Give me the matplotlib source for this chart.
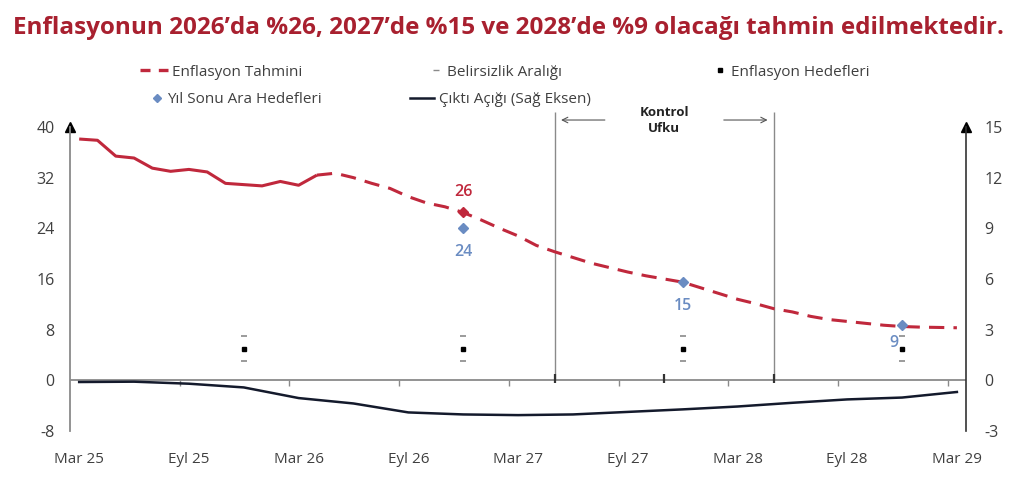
import numpy as np
import matplotlib
matplotlib.use('Agg')
from matplotlib import pyplot as plt
from matplotlib.lines import Line2D

plt.rcParams['font.family'] = ['Open Sans', 'DejaVu Sans']
plt.rcParams['axes.unicode_minus'] = False

# aylar: 0 = Mar 25 ... 48 = Mar 29
ay_sayisi = 49
x_etiketleri = ['Mar 25', 'Eyl 25', 'Mar 26', 'Eyl 26', 'Mar 27', 'Eyl 27', 'Mar 28', 'Eyl 28', 'Mar 29']
x_etiket_yeri = [0, 6, 12, 18, 24, 30, 36, 42, 48]

gercek_ay = list(range(0, 14))
gercek = [38.1, 37.9, 35.4, 35.1, 33.5, 33.0, 33.3, 32.9, 31.1, 30.9, 30.7, 31.4, 30.8, 32.4]

tahmin_ay = list(range(13, 49))
tahmin = [32.4, 32.7, 32.0, 31.1, 30.3, 29.0, 28.0, 27.4, 26.5, 25.3, 24.0, 22.8,
          21.3, 20.3, 19.4, 18.5, 17.8, 17.1, 16.5, 16.0, 15.5, 14.6, 13.7, 12.8,
          12.1, 11.3, 10.8, 10.1, 9.6, 9.3, 9.0, 8.7, 8.5, 8.4, 8.35, 8.3]

aralik_ay = [21]          # Ara 26 tahmin noktasi
aralik_deger = [26.5]
aralik_etiket = ['26']

ara_hedef_ay = [21, 33, 45]
ara_hedef = [24.0, 15.5, 8.7]
ara_hedef_etiket = ['24', '15', '9']

hedef_ay = [9, 21, 33, 45]
hedef = [5, 5, 5, 5]
belirsiz_alt = [3, 3, 3, 3]
belirsiz_ust = [7, 7, 7, 7]

cikti_ay = list(range(0, 49, 3))
cikti_acigi = [-0.1, -0.08, -0.2, -0.42, -1.05, -1.37, -1.9, -2.02, -2.06,
               -2.02, -1.87, -1.72, -1.55, -1.33, -1.13, -1.02, -0.69]

kontrol_ufku = [26, 38]
buyuk_tik = [26, 32, 38]

kirmizi = '#c0283c'
mavi = '#6a8cc2'
gri = '#8a8a8a'
yazi = '#404040'

fig = plt.figure(figsize=(10.24, 4.97), dpi=100)
ax = fig.add_axes([0.0684, 0.1328, 0.875, 0.6117])
ax2 = ax.twinx()

ax.set_xlim(-0.5, ay_sayisi - 0.5)
ax.set_ylim(-8, 40)
ax2.set_ylim(-3, 15)

# cizgiler
ax.plot(gercek_ay, gercek, color=kirmizi, lw=2.2, solid_capstyle='butt', zorder=5)
ax.plot(tahmin_ay, tahmin, color=kirmizi, lw=2.2, dashes=(5, 3), zorder=5)
ax2.plot(cikti_ay, cikti_acigi, color='#141a2c', lw=1.8, zorder=4)

ax.plot(aralik_ay, aralik_deger, 'D', color=kirmizi, ms=5, zorder=6)
ax.plot(ara_hedef_ay, ara_hedef, 'D', color=mavi, ms=5, zorder=7)
ax.plot(hedef_ay, hedef, 's', color='black', ms=2.5, zorder=6)
ax.plot(hedef_ay, belirsiz_alt, '_', color=gri, ms=5, mew=1.2, zorder=6)
ax.plot(hedef_ay, belirsiz_ust, '_', color=gri, ms=5, mew=1.2, zorder=6)

for a, d, t in zip(aralik_ay, aralik_deger, aralik_etiket):
    ax.annotate(t, (a, d), xytext=(0, 15), textcoords='offset points', ha='center',
                va='center', color=kirmizi, fontsize=11.5, fontweight='semibold')
ofsetler = [(0, -17), (0, -17), (-6, -13)]
for a, d, t, o in zip(ara_hedef_ay, ara_hedef, ara_hedef_etiket, ofsetler):
    ax.annotate(t, (a, d), xytext=o, textcoords='offset points', ha='center',
                va='center', color=mavi, fontsize=11.5, fontweight='semibold')

# kontrol ufku
ax.vlines(kontrol_ufku, 0, 42.3, color=gri, lw=1, clip_on=False, zorder=3)
orta = np.mean(kontrol_ufku)
ax.annotate('', xy=(kontrol_ufku[0] + 0.2, 41.1), xytext=(orta - 3.1, 41.1),
            arrowprops=dict(arrowstyle='->', color='#555555', lw=0.8), annotation_clip=False)
ax.annotate('', xy=(kontrol_ufku[1] - 0.2, 41.1), xytext=(orta + 3.1, 41.1),
            arrowprops=dict(arrowstyle='->', color='#555555', lw=0.8), annotation_clip=False)
ax.text(orta, 41.0, 'Kontrol\nUfku', ha='center', va='center', fontsize=9.5,
        fontweight='bold', color='#222222', linespacing=1.25)

# x ekseni (0 seviyesinde)
ax.axhline(0, color=gri, lw=1.3, zorder=2)
alt = ax.secondary_xaxis(8 / 48)
alt.spines['bottom'].set_visible(False)
alt.set_xticks([6 * k - 0.5 for k in range(1, 9)])
alt.set_xticklabels([])
alt.tick_params(axis='x', length=4, width=1, color=gri, direction='out')
ax.vlines(buyuk_tik, -0.4, 1.0, color='#333333', lw=1.6, zorder=3)

ax.set_xticks(x_etiket_yeri)
ax.set_xticklabels(x_etiketleri)
ax.tick_params(axis='x', length=0, pad=15, labelsize=11, labelcolor=yazi)

ax.set_yticks([40, 32, 24, 16, 8, 0, -8])
ax.tick_params(axis='y', length=0, pad=11, labelsize=11.5, labelcolor=yazi)
ax2.set_yticks([15, 12, 9, 6, 3, 0, -3])
ax2.tick_params(axis='y', length=0, pad=13, labelsize=11.5, labelcolor=yazi)

for s in ['top', 'bottom', 'right']:
    ax.spines[s].set_visible(False)
for s in ['top', 'bottom', 'left']:
    ax2.spines[s].set_visible(False)
ax.spines['left'].set_color(gri)
ax.spines['left'].set_linewidth(1.3)
ax2.spines['right'].set_color('#333333')
ax2.spines['right'].set_linewidth(1.2)

ax.plot([0], [1], '^', color='black', ms=7, transform=ax.transAxes, clip_on=False)
ax2.plot([1], [1], '^', color='black', ms=7, transform=ax2.transAxes, clip_on=False)

# baslik
fig.text(0.497, 0.944, "Enflasyonun 2026\u2019da %26, 2027\u2019de %15 ve 2028\u2019de %9 olaca\u011f\u0131 tahmin edilmektedir.",
         ha='center', va='center', fontsize=17.5, fontweight='bold', color='#a8202f')

# gosterge
ogeler = [
    (Line2D([], [], color=kirmizi, lw=2.4, dashes=(3, 2.5)), 'Enflasyon Tahmini', 0.137, 0.855, 1.8),
    (Line2D([], [], color=gri, ls='', marker='_', ms=5), 'Belirsizlik Aral\u0131\u011f\u0131', 0.42, 0.855, 0.8),
    (Line2D([], [], color='black', ls='', marker='s', ms=2.5), 'Enflasyon Hedefleri', 0.697, 0.855, 0.8),
    (Line2D([], [], color=mavi, ls='', marker='D', ms=4), 'Y\u0131l Sonu Ara Hedefleri', 0.147, 0.799, 0.8),
    (Line2D([], [], color='#141a2c', lw=1.8), '\u00c7\u0131kt\u0131 A\u00e7\u0131\u011f\u0131 (Sa\u011f Eksen)', 0.40, 0.799, 1.6),
]
for h, t, x, y, hl in ogeler:
    lg = fig.legend([h], [t], loc='center left', bbox_to_anchor=(x, y), frameon=False,
                    fontsize=11, handlelength=hl, handletextpad=0.3, borderpad=0,
                    borderaxespad=0, labelcolor=yazi)

fig.savefig('out.png', dpi=100)
